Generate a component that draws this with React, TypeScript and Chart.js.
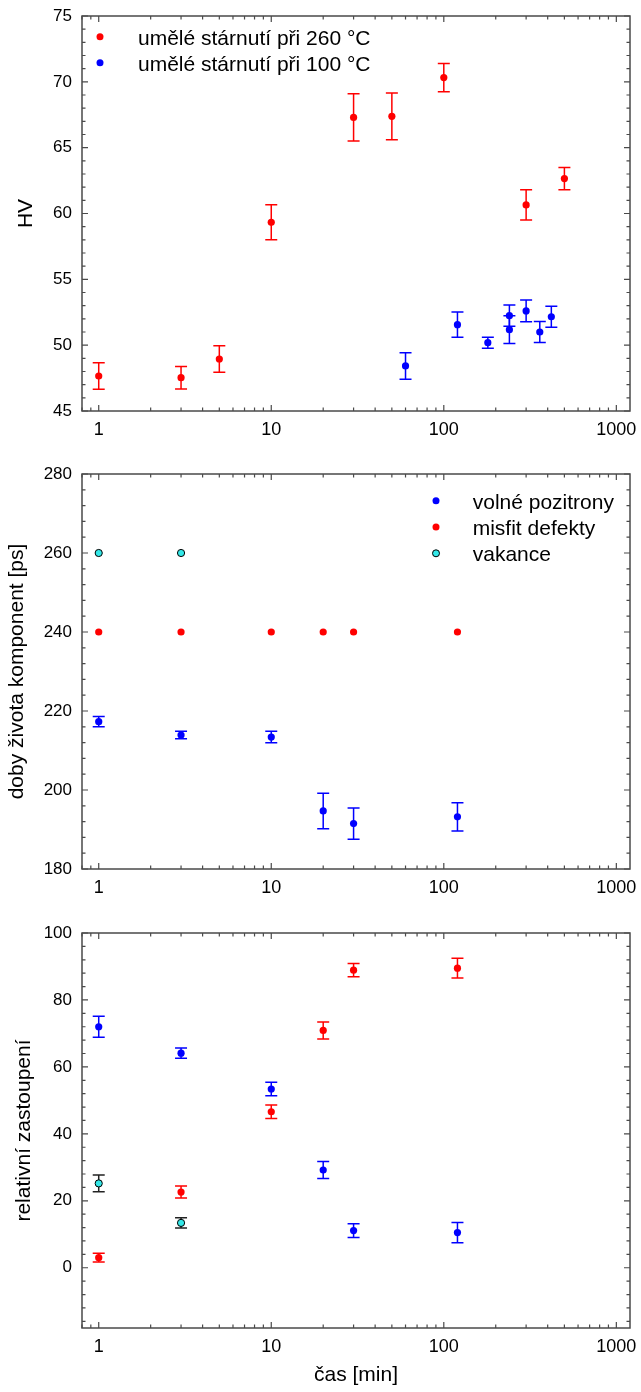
import React, { useEffect, useRef } from 'react';
import { Chart, registerables } from 'chart.js';

Chart.register(...registerables);

const FONT = "'Liberation Sans', Arial, Helvetica, sans-serif";
const RED = '#ff0000';
const BLUE = '#0000ff';
const CYAN = '#33e8e8';
const AXIS = '#4a4a4a';

// ---------- shared x axis ----------
const xMin = 0.8;
const xMax = 1200;
const xMajorTicks = [1, 10, 100, 1000];

// ---------- panel 1: HV ----------
const hvLabel260 = 'umělé stárnutí při 260 °C';
const hvLabel100 = 'umělé stárnutí při 100 °C';
const hvTimes260 = [1, 3, 5, 10, 30, 50, 100, 300, 500];
const hv260 = [47.66, 47.53, 48.95, 59.33, 67.3, 67.38, 70.32, 60.65, 62.65];
const hv260Err = [1.0, 0.85, 1.0, 1.33, 1.8, 1.77, 1.08, 1.15, 0.85];
const hvTimes100 = [60, 120, 180, 240, 240, 300, 360, 420];
const hv100 = [48.42, 51.56, 50.19, 52.24, 51.18, 52.6, 51.0, 52.16];
const hv100Err = [1.0, 0.95, 0.42, 0.81, 1.05, 0.83, 0.79, 0.79];
const hvYTicks = [45, 50, 55, 60, 65, 70, 75];

// ---------- panel 2: lifetimes ----------
const labelFree = 'volné pozitrony';
const labelMisfit = 'misfit defekty';
const labelVac = 'vakance';
const ltTimesFree = [1, 3, 10, 20, 30, 120];
const ltFree = [217.3, 213.9, 213.4, 194.7, 191.5, 193.2];
const ltFreeErr = [1.3, 0.95, 1.45, 4.5, 3.95, 3.55];
const ltTimesMisfit = [1, 3, 10, 20, 30, 120];
const ltMisfit = [240, 240, 240, 240, 240, 240];
const ltTimesVac = [1, 3];
const ltVac = [260, 260];
const ltYTicks = [180, 200, 220, 240, 260, 280];

// ---------- panel 3: relative intensities ----------
const relTimesFree = [1, 3, 10, 20, 30, 120];
const relFree = [72.0, 64.1, 53.4, 29.2, 11.1, 10.5];
const relFreeErr = [3.15, 1.55, 2.0, 2.55, 2.05, 3.0];
const relTimesMisfit = [1, 3, 10, 20, 30, 120];
const relMisfit = [3.0, 22.6, 46.6, 70.9, 88.9, 89.5];
const relMisfitErr = [1.3, 1.8, 2.05, 2.55, 2.0, 2.95];
const relTimesVac = [1, 3];
const relVac = [25.2, 13.4];
const relVacErr = [2.5, 1.55];
const relYTicks = [0, 20, 40, 60, 80, 100];

const toPoints = (xs: number[], ys: number[]) => xs.map((x, i) => ({ x, y: ys[i] }));

const errorBarPlugin = {
  id: 'errorBars',
  beforeDatasetsDraw(chart: any) {
    const { ctx } = chart;
    const yScale = chart.scales.y;
    chart.data.datasets.forEach((ds: any, i: number) => {
      if (!ds.errorBars) return;
      const meta = chart.getDatasetMeta(i);
      ctx.save();
      ctx.strokeStyle = ds.errorColor || ds.borderColor;
      ctx.lineWidth = 1.5;
      meta.data.forEach((pt: any, j: number) => {
        const v = ds.data[j].y;
        const e = ds.errorBars[j];
        const x = pt.x;
        const yTop = yScale.getPixelForValue(v + e);
        const yBot = yScale.getPixelForValue(v - e);
        ctx.beginPath();
        ctx.moveTo(x, yTop);
        ctx.lineTo(x, yBot);
        ctx.moveTo(x - 6, yTop);
        ctx.lineTo(x + 6, yTop);
        ctx.moveTo(x - 6, yBot);
        ctx.lineTo(x + 6, yBot);
        ctx.stroke();
      });
      ctx.restore();
    });
  },
};

const frameTicksPlugin = {
  id: 'frameTicks',
  afterDatasetsDraw(chart: any, _args: any, opts: any) {
    const { ctx, chartArea } = chart;
    const { left, right, top, bottom } = chartArea;
    const xs = chart.scales.x;
    const ys = chart.scales.y;
    ctx.save();
    ctx.strokeStyle = AXIS;
    ctx.lineWidth = 1.5;
    ctx.strokeRect(left, top, right - left, bottom - top);
    ctx.lineWidth = 1.2;
    ctx.beginPath();
    // x ticks (log)
    for (let d = -1; d <= 3; d++) {
      for (let m = 1; m <= 9; m++) {
        const v = m * Math.pow(10, d);
        if (v < xs.min || v > xs.max) continue;
        const px = xs.getPixelForValue(v);
        const len = m === 1 ? 6 : 3.5;
        ctx.moveTo(px, bottom);
        ctx.lineTo(px, bottom - len);
        ctx.moveTo(px, top);
        ctx.lineTo(px, top + len);
      }
    }
    // y ticks
    const step = opts.minorStep;
    const major = opts.majorStep;
    const start = Math.ceil(ys.min / step) * step;
    for (let v = start; v <= ys.max + 1e-9; v += step) {
      const py = ys.getPixelForValue(v);
      const isMajor = Math.abs(v / major - Math.round(v / major)) < 1e-6;
      const len = isMajor ? 6 : 3.5;
      ctx.moveTo(left, py);
      ctx.lineTo(left + len, py);
      ctx.moveTo(right, py);
      ctx.lineTo(right - len, py);
    }
    ctx.stroke();
    ctx.restore();
  },
};

const legendPlugin = {
  id: 'customLegend',
  afterDraw(chart: any, _args: any, opts: any) {
    if (!opts || !opts.order) return;
    const { ctx, chartArea } = chart;
    ctx.save();
    ctx.font = `21px ${FONT}`;
    ctx.textAlign = 'left';
    ctx.textBaseline = 'alphabetic';
    opts.order.forEach((idx: number, i: number) => {
      const ds = chart.data.datasets[idx];
      const cy = chartArea.top + opts.dy + i * opts.step;
      const cx = chartArea.left + opts.dx;
      ctx.beginPath();
      ctx.arc(cx, cy, 3.5, 0, Math.PI * 2);
      ctx.fillStyle = ds.backgroundColor;
      ctx.fill();
      if (ds.borderWidth) {
        ctx.lineWidth = ds.borderWidth;
        ctx.strokeStyle = ds.borderColor;
        ctx.stroke();
      }
      ctx.fillStyle = '#000';
      ctx.fillText(ds.label, chartArea.left + opts.textDx, cy + 8);
    });
    ctx.restore();
  },
};

function makeDataset(label: string, xs: number[], ys: number[], color: string, errs?: number[], errColor?: string, outline?: boolean) {
  return {
    label,
    data: toPoints(xs, ys),
    backgroundColor: color,
    borderColor: outline ? '#000' : color,
    borderWidth: outline ? 1 : 0,
    pointRadius: 3.6,
    pointHoverRadius: 3.6,
    showLine: false,
    errorBars: errs,
    errorColor: errColor || color,
  };
}

interface PanelCfg {
  height: number;
  plotTop: number;
  xAxisHeight: number;
  yMin: number;
  yMax: number;
  yTicks: number[];
  minorStep: number;
  majorStep: number;
  yTitle: string;
  yTitlePad: number;
  xTitle?: string;
  datasets: any[];
  legend?: any;
}

function buildConfig(p: PanelCfg): any {
  return {
    type: 'scatter',
    data: { datasets: p.datasets },
    plugins: [errorBarPlugin, frameTicksPlugin, legendPlugin],
    options: {
      animation: false,
      responsive: false,
      devicePixelRatio: 1,
      events: [],
      layout: { padding: { top: p.plotTop, right: 11, left: 0, bottom: 0 } },
      plugins: {
        legend: { display: false },
        tooltip: { enabled: false },
        frameTicks: { minorStep: p.minorStep, majorStep: p.majorStep },
        customLegend: p.legend || {},
      },
      scales: {
        x: {
          type: 'logarithmic',
          min: xMin,
          max: xMax,
          afterBuildTicks: (s: any) => {
            s.ticks = xMajorTicks.map((v) => ({ value: v, major: true }));
          },
          afterFit: (s: any) => {
            s.height = p.xAxisHeight;
            s.paddingLeft = 0;
            s.paddingRight = 0;
          },
          ticks: {
            autoSkip: false,
            maxRotation: 0,
            minRotation: 0,
            padding: 8,
            color: '#000',
            font: { family: FONT, size: 18 },
            callback: (v: any) => String(v),
          },
          grid: { display: false, drawTicks: false },
          border: { display: false },
          title: p.xTitle
            ? {
                display: true,
                text: p.xTitle,
                color: '#000',
                font: { family: FONT, size: 21 },
                padding: { top: 0, bottom: 4 },
              }
            : { display: false },
        },
        y: {
          type: 'linear',
          min: p.yMin,
          max: p.yMax,
          afterBuildTicks: (s: any) => {
            s.ticks = p.yTicks.map((v) => ({ value: v }));
          },
          afterFit: (s: any) => {
            s.width = 82;
            s.paddingTop = 0;
            s.paddingBottom = 0;
          },
          ticks: {
            padding: 10,
            color: '#000',
            font: { family: FONT, size: 17 },
            callback: (v: any) => String(v),
          },
          grid: { display: false, drawTicks: false },
          border: { display: false },
          title: {
            display: true,
            text: p.yTitle,
            color: '#000',
            font: { family: FONT, size: 21 },
            padding: { top: p.yTitlePad, bottom: 0 },
          },
        },
      },
    },
  };
}

function Panel({ cfg, top }: { cfg: PanelCfg; top: number }) {
  const ref = useRef<HTMLCanvasElement | null>(null);
  useEffect(() => {
    if (!ref.current) return;
    const chart = new Chart(ref.current, buildConfig(cfg));
    return () => chart.destroy();
  }, []);
  return (
    <canvas
      ref={ref}
      width={641}
      height={cfg.height}
      style={{ position: 'absolute', left: 0, top, width: 641, height: cfg.height, display: 'block' }}
    />
  );
}

const panel1: PanelCfg = {
  height: 450,
  plotTop: 16,
  xAxisHeight: 39,
  yMin: 45,
  yMax: 75,
  yTicks: hvYTicks,
  minorStep: 1,
  majorStep: 5,
  yTitle: 'HV',
  yTitlePad: 14,
  datasets: [
    makeDataset(hvLabel260, hvTimes260, hv260, RED, hv260Err),
    makeDataset(hvLabel100, hvTimes100, hv100, BLUE, hv100Err),
  ],
  legend: { order: [0, 1], dx: 18, textDx: 56, dy: 20.7, step: 26 },
};

const panel2: PanelCfg = {
  height: 450,
  plotTop: 24,
  xAxisHeight: 31,
  yMin: 180,
  yMax: 280,
  yTicks: ltYTicks,
  minorStep: 4,
  majorStep: 20,
  yTitle: 'doby života komponent [ps]',
  yTitlePad: 5,
  datasets: [
    makeDataset(labelFree, ltTimesFree, ltFree, BLUE, ltFreeErr),
    makeDataset(labelMisfit, ltTimesMisfit, ltMisfit, RED),
    makeDataset(labelVac, ltTimesVac, ltVac, CYAN, undefined, undefined, true),
  ],
  legend: { order: [0, 1, 2], dx: 354, textDx: 390.7, dy: 26.7, step: 26.3 },
};

const panel3: PanelCfg = {
  height: 492,
  plotTop: 33,
  xAxisHeight: 64,
  yMin: -18,
  yMax: 100,
  yTicks: relYTicks,
  minorStep: 4,
  majorStep: 20,
  yTitle: 'relativní zastoupení',
  yTitlePad: 12,
  xTitle: 'čas [min]',
  datasets: [
    makeDataset(labelFree, relTimesFree, relFree, BLUE, relFreeErr),
    makeDataset(labelMisfit, relTimesMisfit, relMisfit, RED, relMisfitErr),
    makeDataset(labelVac, relTimesVac, relVac, CYAN, relVacErr, '#222', true),
  ],
};

export default function App() {
  return (
    <div style={{ position: 'absolute', left: 0, top: 0, width: 641, height: 1392, background: '#fff' }}>
      <Panel cfg={panel1} top={0} />
      <Panel cfg={panel2} top={450} />
      <Panel cfg={panel3} top={900} />
    </div>
  );
}
